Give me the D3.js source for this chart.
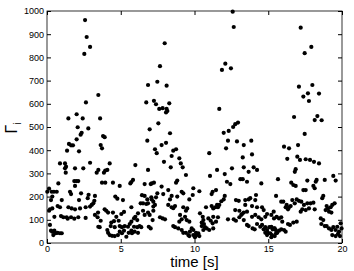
<!DOCTYPE html>
<html><head><meta charset="utf-8">
<script src="https://cdn.jsdelivr.net/npm/d3@7"></script>
<style>body{margin:0;background:#fff}svg{display:block}text{font-family:"Liberation Sans",Arial,sans-serif}</style>
</head><body><svg id="c" width="354" height="271"></svg>
<script>
const time = [
2.58,2.69,2.92,2.53,3.48,2.64,1.45,2.01,2.42,3.6,
2.08,2.35,2.28,2.80,2.01,1.49,1.63,1.76,1.36,2.17,0.88,1.22,1.29,1.22,1.27,1.90,2.46,2.92,3.37,3.48,0.77,1.85,1.99,2.12,1.90,0.14,0.02,0.32,0.47,0.66,1.56,1.63,2.31,2.82,0.36,0.27,1.0,2.17,2.76,3.25,3.21,3.14,0.72,0.88,0.36,0.2,0.14,1.45,1.67,1.9,2.24,2.62,2.92,3.03,0.5,0.95,1.11,1.33,1.40,1.63,1.85,2.12,2.62,3.25,3.43,0.2,3.48,0.27,0.36,0.5,0.59,0.72,0.88,1.0,0.43,
6.85,6.73,
6.96,3.80,3.91,3.64,3.73,6.80,4.25,5.99,3.86,3.95,4.09,6.85,3.73,3.95,4.47,4.93,5.83,5.72,5.65,6.62,7.03,4.63,4.77,5.15,6.44,6.62,6.80,7.07,6.35,6.51,6.73,6.85,3.46,3.91,4.02,4.14,4.47,5.22,5.04,5.72,6.17,5.99,5.90,6.12,6.51,6.62,6.85,6.96,3.64,3.57,4.70,4.86,4.36,4.54,4.32,4.59,4.09,4.14,4.93,5.08,5.27,5.49,5.61,5.72,5.90,6.12,6.28,6.39,6.9,7.03,4.25,4.41,4.59,4.93,4.81,5.08,5.22,5.38,5.54,5.72,5.76,5.94,6.17,
7.98,7.66,7.48,8.11,7.25,7.39,7.61,7.84,8.29,8.11,8.16,8.07,7.55,
8.34,7.77,8.07,7.32,7.44,8.56,8.75,8.45,11.0,8.97,9.07,7.93,8.39,9.2,9.42,11.05,8.83,8.75,7.1,7.25,7.77,8.22,9.13,9.24,9.92,10.33,11.23,11.16,7.48,7.39,7.1,7.21,7.88,8.45,8.34,8.83,9.65,9.88,7.32,7.21,8.22,8.45,8.68,8.56,9.24,9.51,9.42,10.78,11.16,11.27,7.21,7.66,7.84,8.0,7.16,9.02,9.13,8.97,9.36,9.47,9.65,10.37,10.56,10.6,10.49,10.64,10.94,11.1,11.23,11.27,8.56,8.68,8.9,9.13,9.24,9.42,9.58,9.69,9.81,9.92,9.65,9.92,10.15,10.33,10.03,10.26,10.1,10.49,10.71,10.83,10.6,11.0,11.27,
12.59,12.66,12.09,11.86,12.47,11.68,12.95,12.76,
12.62,12.32,11.98,12.27,12.88,13.34,13.85,12.14,13.27,13.9,11.53,12.05,12.54,13.34,13.67,14.01,14.24,13.11,13.27,13.56,12.2,12.43,14.53,11.46,12.05,11.98,11.82,11.53,11.41,11.68,11.59,12.81,13.0,13.44,13.67,13.78,14.17,14.12,15.53,13.44,13.9,14.24,14.58,12.76,13.04,13.34,13.56,13.22,11.59,11.46,12.27,12.66,12.81,13.04,13.17,13.34,13.9,14.12,14.35,14.53,14.8,14.92,15.21,15.37,14.69,13.56,13.67,13.94,14.08,14.24,14.46,14.58,14.69,14.8,14.92,15.07,15.21,15.3,15.44,15.14,15.25,15.44,15.53,14.98,14.92,14.8,15.21,
17.2,17.92,17.47,17.08,17.99,17.69,17.38,18.44,17.76,16.75,18.33,18.15,18.62,
17.47,16.07,16.41,17.02,16.29,16.97,17.15,17.54,17.83,18.1,18.44,16.86,16.8,15.66,19.41,19.57,16.56,16.7,16.86,18.28,18.22,17.65,18.83,18.06,18.15,17.38,17.54,18.73,18.66,15.88,16.02,16.25,16.18,16.41,16.34,16.52,16.63,16.93,17.08,17.24,16.8,17.65,17.87,18.06,17.42,17.31,17.2,17.54,17.76,18.15,18.96,19.05,18.89,19.23,19.34,19.5,19.12,19.28,15.39,15.57,15.73,15.88,15.95,16.34,16.47,16.7,16.93,18.56,18.73,18.6,18.83,18.96,19.12,19.28,19.41,19.57,19.68,19.91,19.8,19.97,19.34,19.57,19.73,19.86,15.39,15.5,15.73,15.88,16.07,16.18,15.61
];
const gamma = [
961,888,845,815,638,606,537,555,537,537,
499,475,467,494,447,427,421,421,398,395,343,343,329,322,303,322,322,346,303,315,257,267,267,267,246,234,221,221,221,221,221,211,214,208,200,185,185,185,193,203,182,171,159,154,149,145,139,154,149,145,149,154,157,164,113,116,111,111,105,111,105,111,108,121,111,78,70,53,49,53,42,44,42,42,34,
681,606,
490,461,456,422,408,441,343,336,303,312,315,315,260,260,260,246,272,263,257,254,254,200,191,185,206,203,188,197,171,171,168,171,131,145,139,131,131,134,125,154,128,113,106,99,139,121,131,121,96,68,113,96,88,94,73,68,56,44,73,68,73,70,82,92,70,68,73,68,70,63,34,31,30,49,34,42,53,27,44,53,42,49,44,
861,762,695,678,613,598,578,581,602,578,569,563,516,
473,422,432,404,387,398,404,375,387,365,343,350,326,326,293,289,269,260,257,260,243,228,221,214,236,223,221,211,214,197,188,178,211,203,188,200,188,207,164,157,164,154,159,150,154,149,139,154,159,149,139,111,106,102,99,121,102,92,113,99,92,128,113,99,88,82,106,96,85,113,73,68,63,56,44,44,34,49,63,56,30,34,34,30,25,42,44,73,68,63,56,56,63,
997,931,773,746,753,578,519,512,
500,483,475,441,438,422,441,408,369,382,315,297,322,326,307,326,315,275,275,264,264,254,257,228,203,188,180,164,154,164,154,185,182,185,188,193,207,185,203,164,159,154,154,142,139,131,135,125,111,92,102,102,96,111,121,99,113,121,111,102,113,125,121,135,142,78,73,63,59,82,70,78,59,68,56,68,70,59,63,42,34,30,42,44,34,44,25,
928,845,818,674,681,645,631,644,612,543,547,530,529,
470,415,408,422,363,372,358,361,358,350,343,318,307,275,289,269,260,250,246,272,264,269,272,246,236,228,228,203,193,178,178,164,154,154,145,159,185,188,182,178,171,171,171,174,164,145,135,142,149,145,159,149,142,154,164,171,135,131,106,113,106,111,92,82,78,88,92,106,99,82,73,73,63,56,68,56,70,85,49,63,34,30,39,30,63,56,53,59,56,49,44
];
const xTicks = [0,5,10,15,20];
const yTicks = [0,100,200,300,400,500,600,700,800,900,1000];
const xLabel = "time [s]";

const svg = d3.select("#c");
const L=47,R=342,T=11,B=243;
const x = d3.scaleLinear().domain([0,20]).range([L,R]);
const y = d3.scaleLinear().domain([0,1000]).range([B,T]);
const data = time.map((t,i)=>({t:t,v:gamma[i]}));

svg.append("g").selectAll("circle").data(data).join("circle")
  .attr("cx",d=>x(d.t)).attr("cy",d=>y(d.v)).attr("r",2.1).attr("fill","#000");

const tickStyle = g=>{g.select(".domain").remove();g.selectAll("line").attr("stroke","#000");g.selectAll("text").attr("font-size","9px").attr("fill","#000").attr("font-family","Liberation Sans, Arial, sans-serif");};
svg.append("g").attr("transform",`translate(0,${B})`)
  .call(d3.axisBottom(x).tickValues(xTicks).tickSize(-4).tickPadding(3).tickFormat(d3.format("d"))).call(tickStyle);
svg.append("g").attr("transform",`translate(0,${T})`)
  .call(d3.axisTop(x).tickValues(xTicks).tickSize(-4).tickFormat("")).call(tickStyle);
svg.append("g").attr("transform",`translate(${L},0)`)
  .call(d3.axisLeft(y).tickValues(yTicks).tickSize(-4).tickPadding(3).tickFormat(d3.format("d"))).call(tickStyle);
svg.append("g").attr("transform",`translate(${R},0)`)
  .call(d3.axisRight(y).tickValues(yTicks).tickSize(-4).tickFormat("")).call(tickStyle);
svg.append("rect").attr("x",L).attr("y",T).attr("width",R-L).attr("height",B-T)
  .attr("fill","none").attr("stroke","#000").attr("stroke-width",0.8);

svg.append("text").attr("x",(L+R)/2).attr("y",267).attr("text-anchor","middle")
  .attr("font-size","15px").text(xLabel);
const yl = svg.append("text").attr("transform","translate(17,128) rotate(-90)").attr("text-anchor","middle")
  .attr("font-family","Liberation Serif, Times New Roman, serif").attr("font-size","16px");
yl.append("tspan").text("Γ");
yl.append("tspan").attr("font-size","10px").attr("dy",4).text("i");
</script></body></html>
